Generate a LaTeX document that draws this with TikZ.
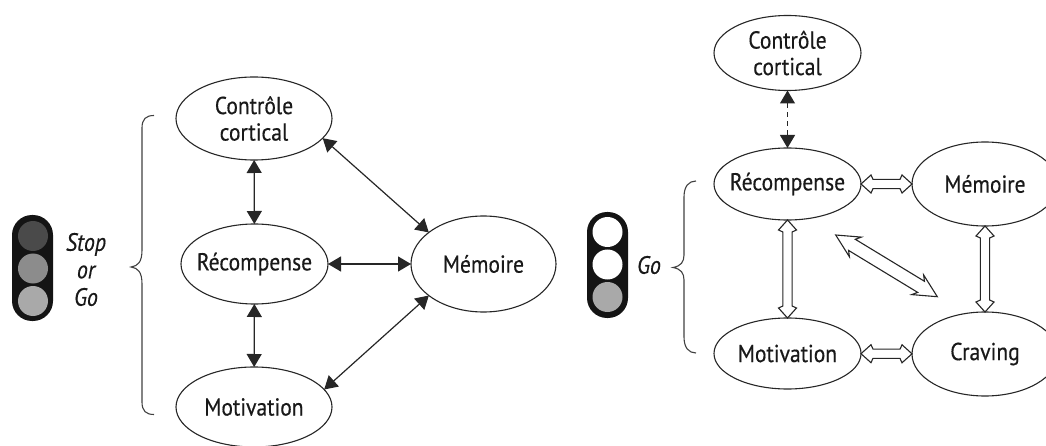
\documentclass[tikz,border=0pt]{standalone}
\usepackage{fontspec}
\setmainfont[FakeStretch=0.88,FakeBold=0.35]{PT Sans}
\usetikzlibrary{arrows.meta,shapes.geometric,calc,decorations.pathreplacing}
\newcommand\OpenArrow[6]{%
  \coordinate (oS) at (#1);
  \coordinate (oE) at (#2);
  \draw[line width=1.1pt,line join=miter,fill=white,draw=black!85]
    (oS)
    -- ($(oS)!#3!(oE)!#5!90:(oE)$)
    -- ($(oS)!#4!(oE)!#6!90:(oE)$)
    -- ($(oE)!#4!(oS)!#6!-90:(oS)$)
    -- ($(oE)!#3!(oS)!#5!-90:(oS)$)
    -- (oE)
    -- ($(oE)!#3!(oS)!#5!90:(oS)$)
    -- ($(oE)!#4!(oS)!#6!90:(oS)$)
    -- ($(oS)!#4!(oE)!#6!-90:(oE)$)
    -- ($(oS)!#3!(oE)!#5!-90:(oE)$)
    -- cycle;%
}
\tikzset{
  oval/.style n args={2}{ellipse,draw=black!85,line width=1.1pt,fill=white,inner sep=0pt,
    inner xsep=-30pt,inner ysep=-12pt,outer sep=0pt,
    minimum width=#1pt,minimum height=#2pt,align=center,text=black!90,
    font=\fontsize{24.5}{26.5}\selectfont},
  solidarrow/.style={line width=1.2pt,draw=black!85,{Triangle[length=13pt,width=15pt]}-{Triangle[length=13pt,width=15pt]}},
  dashedarrow/.style={solidarrow,dashed,dash pattern=on 5pt off 4pt},
  openarrow/.style n args={4}{decorate,decoration={show path construction,
    lineto code={\OpenArrow{\tikzinputsegmentfirst}{\tikzinputsegmentlast}{#1}{#2}{#3}{#4}}}},
  smallopen/.style={openarrow={10pt}{12pt}{9pt}{4.6pt}},
  bigopen/.style={openarrow={23pt}{19pt}{11.5pt}{6.5pt}},
  housing/.style={rectangle,rounded corners=20pt,fill=black!92,draw=none,minimum width=41pt,inner sep=0pt,outer sep=0pt},
  lamp/.style={circle,minimum size=30pt,inner sep=0pt,draw=none},
  brace/.style={line width=1.1pt,draw=black!75},
  side/.style={font=\fontsize{25}{27.5}\selectfont\itshape,text=black!90,inner sep=0pt,align=center}
}
\definecolor{lampdark}{HTML}{4A4A4A}
\definecolor{lampmid}{HTML}{8C8C8C}
\definecolor{lamplight}{HTML}{A9A9A9}
\begin{document}
\begin{tikzpicture}[x=1pt,y=-1pt]
\useasboundingbox (0,0) rectangle (1046,446);
% left graph
\node[oval={156}{83}] (lCC) at (254,118.5) {Contrôle\\cortical};
\node[oval={147}{80}] (lRe) at (254.5,264) {Récompense};
\node[oval={156}{80}] (lMo) at (254,407) {Motivation};
\node[oval={145}{96}] (lMe) at (483.5,264) {Mémoire};
\draw[solidarrow] (lCC) -- (lRe);
\draw[solidarrow] (lRe) -- (lMo);
\draw[solidarrow] (lRe) -- (lMe);
\draw[solidarrow] (lCC.-16) -- (lMe.150);
\draw[solidarrow] (lMo.14) -- (lMe.210);
% right graph
\node[oval={147}{75}] (rCC) at (787.5,53) {Contrôle\\cortical};
\node[oval={147}{72}] (rRe) at (787.5,184) {Récompense};
\node[oval={146}{84}] (rMe) at (985,184) {Mémoire};
\node[oval={147}{71}] (rMo) at (787.5,353.5) {Motivation};
\node[oval={146}{84}] (rCr) at (985,354) {Craving};
\coordinate (dA) at (835.7,235);
\coordinate (dB) at (937.3,296.7);
\draw[dashedarrow] (rCC) -- (rRe);
\draw[smallopen] (rRe) -- (rMe);
\draw[smallopen] (rMo) -- (rCr);
\draw[smallopen] (rRe) -- (rMo);
\draw[smallopen] (rMe) -- (rCr);
\draw[bigopen] (dA) -- (dB);
% left traffic light
\node[housing,minimum height=106pt] (lL) at (32.5,268) {};
\node[lamp,fill=lampdark] (lL1) at (33,236) {};
\node[lamp,fill=lampmid] (lL2) at (33,268.5) {};
\node[lamp,fill=lamplight] (lL3) at (33,301) {};
\node[side] (lT) at (86,269.5) {Stop\\or\\Go};
% right traffic light
\node[housing,minimum height=106pt] (rL) at (607.5,265) {};
\node[lamp,fill=white] (rL1) at (607.5,232) {};
\node[lamp,fill=white] (rL2) at (607.5,264.5) {};
\node[lamp,fill=lamplight] (rL3) at (607.5,297) {};
\node[side] (rT) at (649,265) {Go};
% braces
\draw[brace] (154,115.5) .. controls (146,115.5) and (142,119) .. (142,128)
  -- (142,250) .. controls (142,262) and (138,266) .. (131,267)
  .. controls (138,268) and (142,272) .. (142,284)
  -- (142,402) .. controls (142,411) and (146,414.5) .. (154,414.5);
\draw[brace] (696,181) .. controls (689,181) and (684,186) .. (684,197)
  -- (684,255) .. controls (684,262) and (681,266) .. (673,267.5)
  .. controls (681,269) and (684,273) .. (684,280)
  -- (684,337) .. controls (684,348) and (689,353) .. (696,353);
\end{tikzpicture}
\end{document}
